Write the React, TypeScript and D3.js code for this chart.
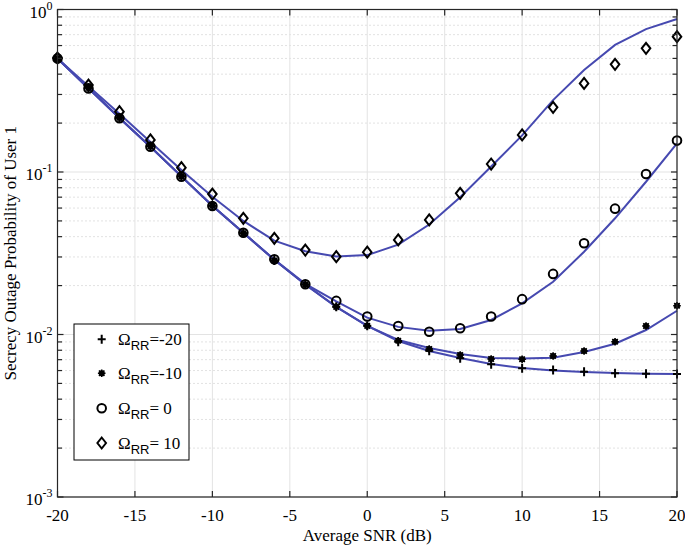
import React from 'react';
import * as d3 from 'd3';

const snr = [-20, -18, -16, -14, -12, -10, -8, -6, -4, -2, 0, 2, 4, 6, 8, 10, 12, 14, 16, 18, 20];
const xTicks = [-20, -15, -10, -5, 0, 5, 10, 15, 20];
const yDecades = [-3, -2, -1, 0];
const legendLabels = ['=-20', '=-10', '= 0', '= 10'];

// simulation markers
const markerM20 = [0.5, 0.33, 0.216, 0.144, 0.094, 0.062, 0.042, 0.0285, 0.0203, 0.0148, 0.0113, 0.00903, 0.00795, 0.00714, 0.00656, 0.00619, 0.00605, 0.0059, 0.00577, 0.00574, 0.00571];
const markerM10 = [0.5, 0.33, 0.216, 0.144, 0.094, 0.062, 0.042, 0.0285, 0.0203, 0.0148, 0.0113, 0.00916, 0.00814, 0.00748, 0.00707, 0.00704, 0.00738, 0.00791, 0.00903, 0.01128, 0.01504];
const marker0 = [0.5, 0.327, 0.214, 0.143, 0.0936, 0.0618, 0.0423, 0.029, 0.0204, 0.0161, 0.0129, 0.01128, 0.0104, 0.01092, 0.0129, 0.0165, 0.0236, 0.0364, 0.0595, 0.0972, 0.156];
const marker10 = [0.503, 0.343, 0.235, 0.1574, 0.1063, 0.0732, 0.0519, 0.0391, 0.0331, 0.0301, 0.0321, 0.0382, 0.0507, 0.0739, 0.112, 0.169, 0.25, 0.351, 0.46, 0.577, 0.68];

// analytical curves
const lineM20 = [0.5, 0.328, 0.215, 0.143, 0.094, 0.062, 0.0423, 0.0288, 0.0203, 0.0148, 0.0113, 0.00912, 0.00791, 0.00717, 0.00658, 0.00622, 0.006, 0.00588, 0.0058, 0.00574, 0.00571];
const lineM10 = [0.5, 0.328, 0.215, 0.143, 0.094, 0.062, 0.0423, 0.0288, 0.0203, 0.0148, 0.0113, 0.00925, 0.00826, 0.00759, 0.00717, 0.00712, 0.0072, 0.0078, 0.00878, 0.01066, 0.014];
const line0 = [0.5, 0.328, 0.215, 0.143, 0.094, 0.062, 0.0423, 0.0289, 0.0205, 0.016, 0.0127, 0.01114, 0.01055, 0.0108, 0.01228, 0.01556, 0.0211, 0.0323, 0.0519, 0.0871, 0.15];
const line10 = [0.5, 0.337, 0.228, 0.153, 0.103, 0.0705, 0.05, 0.0378, 0.0325, 0.0302, 0.0308, 0.0357, 0.0475, 0.07, 0.108, 0.168, 0.277, 0.424, 0.605, 0.758, 0.874];

const W = 685, H = 547;
const L = 57.5, R = 677, T = 9.5, B = 497;
const BLUE = '#4649b0';
const AX = '#262626';
const SERIF = '"Liberation Serif", "Times New Roman", serif';
const SANS = '"Liberation Sans", Arial, sans-serif';

function Marker({ type, x, y }: { type: string; x: number; y: number }) {
  if (type === 'plus') {
    return <path d={`M${x - 4},${y}H${x + 4}M${x},${y - 4.5}V${y + 4.5}`} stroke="#000" strokeWidth={2} fill="none" />;
  }
  if (type === 'star') {
    const r = 3.8, d = r * 0.72;
    return (
      <g>
        <circle cx={x} cy={y} r={3} fill="#000" />
        <path d={`M${x - r},${y}H${x + r}M${x},${y - r}V${y + r}M${x - d},${y - d}L${x + d},${y + d}M${x - d},${y + d}L${x + d},${y - d}`} stroke="#000" strokeWidth={1.6} fill="none" />
      </g>
    );
  }
  if (type === 'circle') {
    return <circle cx={x} cy={y} r={4.3} stroke="#000" strokeWidth={2} fill="none" />;
  }
  return <path d={`M${x},${y - 5.5}L${x + 4.3},${y}L${x},${y + 5.5}L${x - 4.3},${y}Z`} stroke="#000" strokeWidth={2} fill="none" />;
}

export default function App() {
  const x = d3.scaleLinear().domain([-20, 20]).range([L, R]);
  const y = d3.scaleLog().domain([1e-3, 1]).range([B, T]);
  const line = d3.line<number>().x((_, i) => x(snr[i])).y((v) => y(v));

  const minors: number[] = [];
  for (let e = -3; e < 0; e++) for (let m = 2; m <= 9; m++) minors.push(m * Math.pow(10, e));

  const curves = [lineM20, lineM10, line0, line10];
  const markers = [
    { type: 'plus', data: markerM20 },
    { type: 'star', data: markerM10 },
    { type: 'circle', data: marker0 },
    { type: 'diamond', data: marker10 },
  ];

  const legX = 74, legY = 324, legW = 115, legH = 136;
  const rowY = [339.3, 373.2, 408.2, 443];

  return (
    <svg width={W} height={H} style={{ position: 'absolute', left: 0, top: 0, background: '#fff' }} fontFamily={SERIF}>
      <rect x={0} y={0} width={W} height={H} fill="#fff" />
      {/* grid */}
      {minors.map((m, i) => (
        <line key={'mg' + i} x1={L} x2={R} y1={y(m)} y2={y(m)} stroke="#c4c4c4" strokeWidth={1} strokeDasharray="1,3" />
      ))}
      {yDecades.map((e) => (
        <line key={'yg' + e} x1={L} x2={R} y1={y(Math.pow(10, e))} y2={y(Math.pow(10, e))} stroke="#e3e3e3" strokeWidth={1} />
      ))}
      {xTicks.map((t) => (
        <line key={'xg' + t} x1={x(t)} x2={x(t)} y1={T} y2={B} stroke="#e3e3e3" strokeWidth={1} />
      ))}
      {/* curves */}
      {curves.map((c, i) => (
        <path key={'c' + i} d={line(c) || ''} stroke={BLUE} strokeWidth={2} fill="none" />
      ))}
      {/* markers */}
      {markers.map((s, si) =>
        s.data.map((v, i) => <Marker key={si + '-' + i} type={s.type} x={x(snr[i])} y={y(v)} />)
      )}
      {/* axes box */}
      <rect x={L} y={T} width={R - L} height={B - T} fill="none" stroke={AX} strokeWidth={1.2} />
      {/* ticks */}
      {xTicks.map((t) => (
        <g key={'xt' + t}>
          <line x1={x(t)} x2={x(t)} y1={B} y2={B - 6} stroke={AX} strokeWidth={1.2} />
          <line x1={x(t)} x2={x(t)} y1={T} y2={T + 6} stroke={AX} strokeWidth={1.2} />
          <text x={x(t)} y={521} textAnchor="middle" fontSize={17} fill="#000">{t}</text>
        </g>
      ))}
      {yDecades.map((e) => (
        <g key={'yt' + e}>
          <line x1={L} x2={L + 6} y1={y(Math.pow(10, e))} y2={y(Math.pow(10, e))} stroke={AX} strokeWidth={1.2} />
          <line x1={R} x2={R - 6} y1={y(Math.pow(10, e))} y2={y(Math.pow(10, e))} stroke={AX} strokeWidth={1.2} />
          <text x={L - 5} y={y(Math.pow(10, e)) + 8} textAnchor="end" fontSize={17} fill="#000">
            10<tspan fontSize={12} dy={-8}>{e}</tspan>
          </text>
        </g>
      ))}
      {minors.map((m, i) => (
        <g key={'mt' + i}>
          <line x1={L} x2={L + 4.5} y1={y(m)} y2={y(m)} stroke={AX} strokeWidth={1.2} />
          <line x1={R} x2={R - 4.5} y1={y(m)} y2={y(m)} stroke={AX} strokeWidth={1.2} />
        </g>
      ))}
      {/* axis labels */}
      <text x={(L + R) / 2} y={541} textAnchor="middle" fontSize={17} fill="#000">Average SNR (dB)</text>
      <text transform={`translate(16,${(T + B) / 2}) rotate(-90)`} textAnchor="middle" fontSize={17} fill="#000">
        Secrecy Outage Probability of User 1
      </text>
      {/* legend */}
      <rect x={legX} y={legY} width={legW} height={legH} fill="#fff" stroke="#000" strokeWidth={1} />
      {markers.map((s, i) => (
        <g key={'lg' + i}>
          <Marker type={s.type} x={101.7} y={rowY[i]} />
          <text x={118} y={rowY[i] + 6} fontSize={17} fill="#000">
            Ω<tspan fontFamily={SANS} fontSize={13} dy={5}>RR</tspan><tspan dy={-5}>{legendLabels[i]}</tspan>
          </text>
        </g>
      ))}
    </svg>
  );
}
